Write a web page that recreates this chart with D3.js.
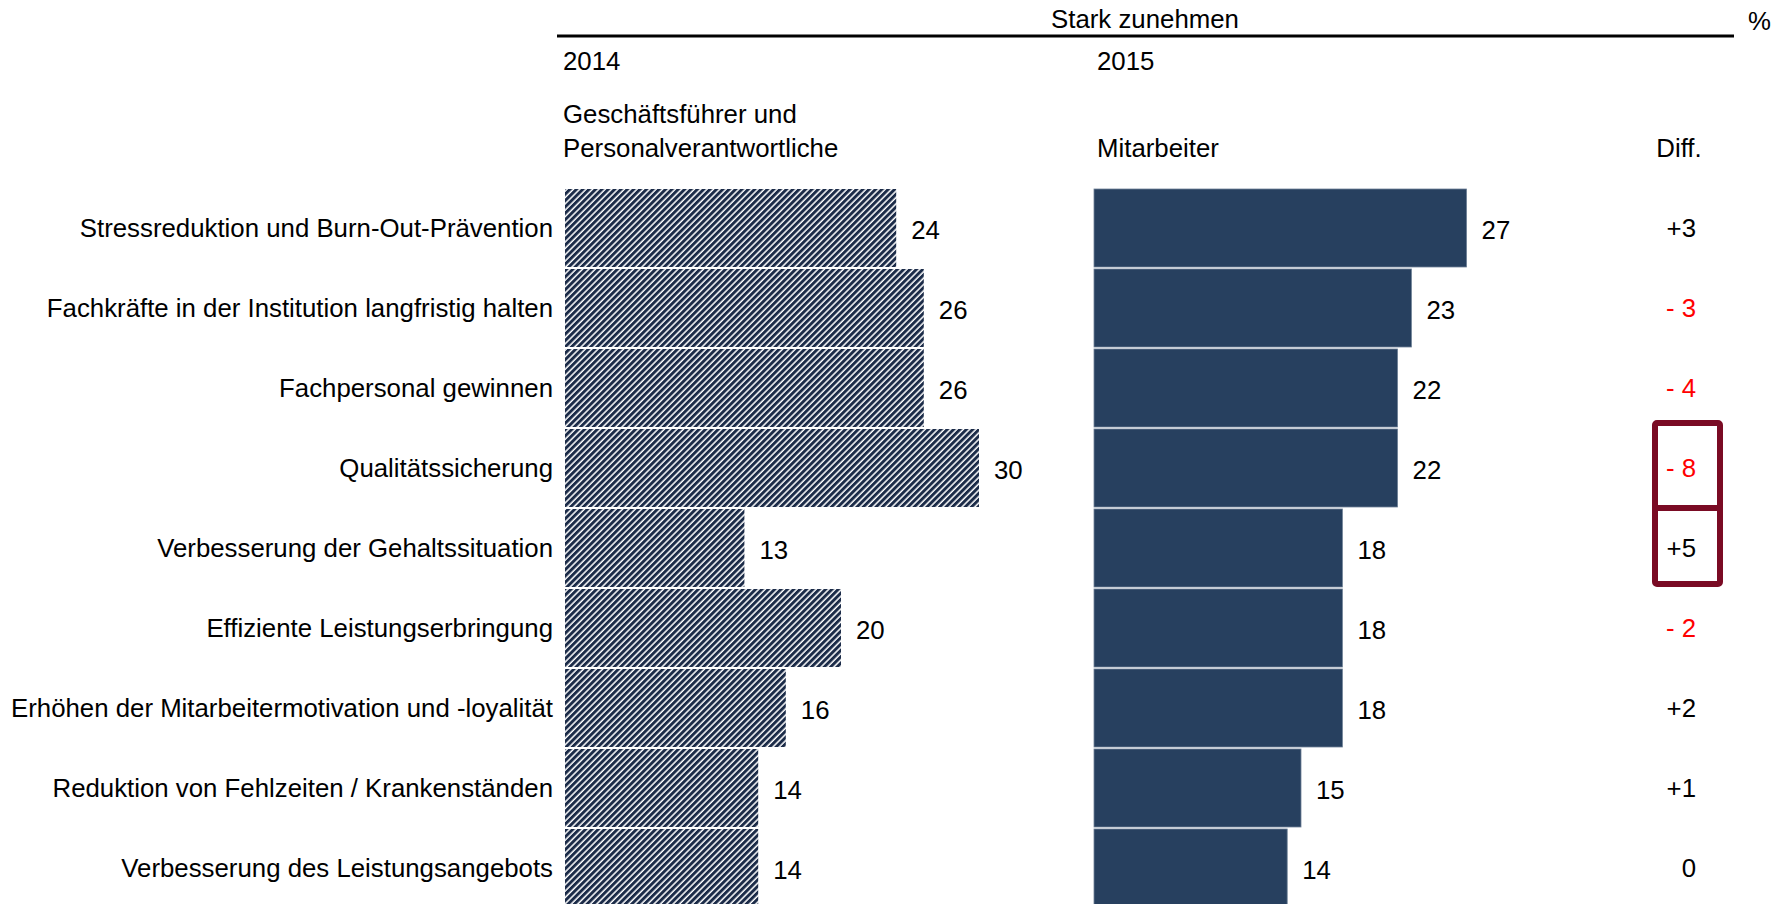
<!DOCTYPE html>
<html><head><meta charset="utf-8">
<script src="https://cdn.jsdelivr.net/npm/d3@7"></script>
<style>
html,body{margin:0;padding:0;background:#fff;overflow:hidden;}
svg{display:block;font-family:"Liberation Sans",Arial,sans-serif;}
</style></head>
<body>
<svg id="chart" width="1783" height="904"></svg>
<script>
const categories = [
  "Stressreduktion und Burn-Out-Prävention",
  "Fachkräfte in der Institution langfristig halten",
  "Fachpersonal gewinnen",
  "Qualitätssicherung",
  "Verbesserung der Gehaltssituation",
  "Effiziente Leistungserbringung",
  "Erhöhen der Mitarbeitermotivation und -loyalität",
  "Reduktion von Fehlzeiten / Krankenständen",
  "Verbesserung des Leistungsangebots"
];
const values2014 = [24, 26, 26, 30, 13, 20, 16, 14, 14];
const values2015 = [27, 23, 22, 22, 18, 18, 18, 15, 14];
const diffs = [3, -3, -4, -8, 5, -2, 2, 1, 0];
const highlighted = [3, 4];
const headerTitle = "Stark zunehmen";
const unitLabel = "%";
const year1 = "2014", year2 = "2015";
const group1 = ["Geschäftsführer und", "Personalverantwortliche"];
const group2 = "Mitarbeiter";
const diffHeader = "Diff.";

const svg = d3.select("#chart");
const FS = 25.8;

const defs = svg.append("defs");
const pat = defs.append("pattern").attr("id","hatch").attr("patternUnits","userSpaceOnUse")
  .attr("width",4.5).attr("height",10).attr("patternTransform","rotate(45)");
pat.append("rect").attr("width",4.5).attr("height",10).attr("fill","#ffffff");
pat.append("rect").attr("width",3.0).attr("height",10).attr("fill","#1b2b48");

const y = d3.scaleBand().domain(categories).range([188, 908]).paddingInner(0.025).paddingOuter(0.0125);
const xL = d3.scaleLinear().domain([0, 30]).range([565, 979]);
const xR = d3.scaleLinear().domain([0, 30]).range([1094, 1508]);

// header
svg.append("line").attr("x1",557).attr("x2",1734).attr("y1",36).attr("y2",36)
  .attr("stroke","#000").attr("stroke-width",3);
svg.append("text").attr("x",1145).attr("y",28).attr("text-anchor","middle")
  .attr("font-size",FS).text(headerTitle);
svg.append("text").attr("x",1748).attr("y",30).attr("font-size",FS).text(unitLabel);
svg.append("text").attr("x",563).attr("y",70).attr("font-size",FS).text(year1);
svg.append("text").attr("x",1097).attr("y",70).attr("font-size",FS).text(year2);
group1.forEach((t,i)=> svg.append("text").attr("x",563).attr("y",123+34*i).attr("font-size",FS).text(t));
svg.append("text").attr("x",1097).attr("y",157).attr("font-size",FS).text(group2);
svg.append("text").attr("x",1679).attr("y",157).attr("text-anchor","middle").attr("font-size",FS).text(diffHeader);

const rows = svg.append("g").selectAll("g").data(categories).join("g");

// category labels
rows.append("text").attr("x",553).attr("y",d=>y(d)+y.bandwidth()/2+9)
  .attr("text-anchor","end").attr("font-size",FS).attr("fill","#000").text(d=>d);

// 2014 bars
rows.append("rect").attr("x",xL(0)).attr("y",d=>y(d))
  .attr("width",(d,i)=>xL(values2014[i])-xL(0)).attr("height",y.bandwidth())
  .attr("fill","url(#hatch)");
rows.append("text").attr("x",(d,i)=>xL(values2014[i])+15).attr("y",d=>y(d)+y.bandwidth()/2+11)
  .attr("font-size",FS).text((d,i)=>values2014[i]);

// 2015 bars
rows.append("rect").attr("x",xR(0)).attr("y",d=>y(d))
  .attr("width",(d,i)=>xR(values2015[i])-xR(0)).attr("height",y.bandwidth())
  .attr("fill","#27405f").attr("stroke","#6f8197").attr("stroke-width",0.8);
rows.append("text").attr("x",(d,i)=>xR(values2015[i])+15).attr("y",d=>y(d)+y.bandwidth()/2+11)
  .attr("font-size",FS).text((d,i)=>values2015[i]);

// diffs
rows.append("text").attr("x",1696).attr("y",d=>y(d)+y.bandwidth()/2+9)
  .attr("text-anchor","end").attr("font-size",FS)
  .attr("fill",(d,i)=>diffs[i]<0?"#ff0000":"#000")
  .text((d,i)=>diffs[i]>0?"+"+diffs[i]:(diffs[i]<0?"- "+Math.abs(diffs[i]):"0"));

// highlight box
const bTop = y(categories[highlighted[0]]) - 6;
const bBot = y(categories[highlighted[1]]) + y.bandwidth() - 3;
const bMid = y(categories[highlighted[1]]) - 1;
const boxColor = "#7a0b24";
svg.append("rect").attr("x",1655).attr("y",bTop).attr("width",65).attr("height",bBot-bTop)
  .attr("fill","none").attr("stroke",boxColor).attr("stroke-width",6).attr("rx",2);
svg.append("line").attr("x1",1655).attr("x2",1720).attr("y1",bMid).attr("y2",bMid)
  .attr("stroke",boxColor).attr("stroke-width",6);
</script>
</body></html>
